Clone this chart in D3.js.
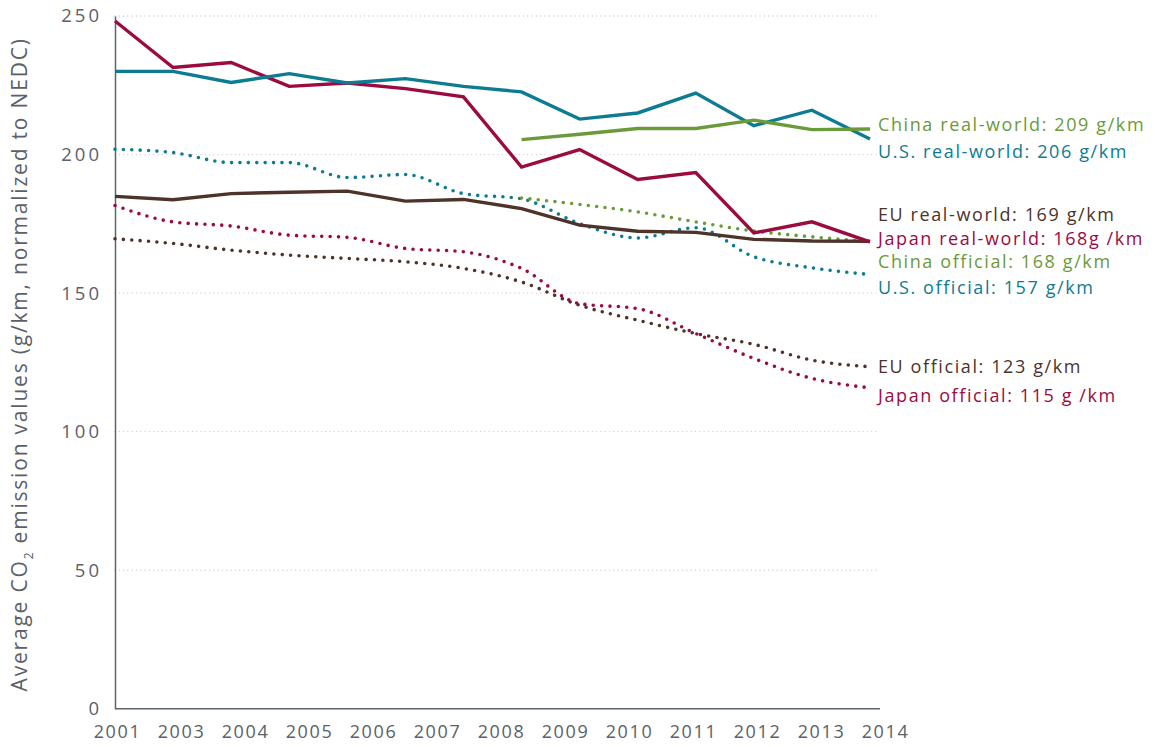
<!DOCTYPE html>
<html lang="en">
<head>
<meta charset="utf-8">
<title>Average CO2 emission values, real-world vs official</title>
<style>
body { margin: 0; background: #fff; }
svg text { font-family: "Open Sans", sans-serif; }
.tick text { fill: #5b6169; font-size: 18px; letter-spacing: 1.6px; }
</style>
<script src="https://cdn.jsdelivr.net/npm/d3@7"></script>
</head>
<body>
<svg id="chart" width="1155" height="747"></svg>
<script>

// years with data (2002 included), and the labels printed under the axis (2002 missing)
var years = d3.range(2001, 2015);
var yearLabels = ["2001", "2003", "2004", "2005", "2006", "2007", "2008", "2009", "2010", "2011", "2012", "2013", "2014"];
var yTicks = [0, 50, 100, 150, 200, 250];

var japanReal = [248.2, 231.4, 233.2, 224.6, 225.8, 223.8, 220.8, 195.5, 201.8, 191.0, 193.5, 171.7, 175.7, 168.5];
var usReal    = [230.0, 230.0, 226.0, 229.2, 225.8, 227.4, 224.6, 222.6, 212.8, 215.0, 222.2, 210.4, 216.0, 205.6];
var chinaReal = [null, null, null, null, null, null, null, 205.4, 207.3, 209.4, 209.4, 212.4, 209.0, 209.2];
var euReal    = [184.9, 183.7, 185.9, 186.4, 186.8, 183.2, 183.8, 180.5, 174.5, 172.3, 171.9, 169.4, 168.8, 168.7];

var usOff     = [201.9, 200.7, 197.1, 197.1, 191.7, 192.8, 185.9, 184.0, 175.1, 169.9, 173.6, 163.1, 159.1, 156.7];
var chinaOff  = [null, null, null, null, null, null, null, 184.3, 182.0, 179.3, 175.7, 172.4, 170.3, 168.5];
var japanOff  = [181.6, 175.7, 174.2, 170.9, 170.1, 166.1, 164.9, 158.9, 146.2, 144.4, 135.4, 126.4, 119.2, 115.8];
var euOff     = [169.6, 167.9, 165.5, 163.7, 162.5, 161.3, 158.9, 154.0, 145.6, 140.2, 135.4, 131.5, 125.8, 123.4];

var colors = {
  china: "#6b9a3a",
  us: "#0d7c92",
  eu: "#4d3329",
  japan: "#9b0b3f"
};

var series = [
  {key: "euOff", values: euOff, color: colors.eu, dotted: true},
  {key: "japanOff", values: japanOff, color: colors.japan, dotted: true},
  {key: "usOff", values: usOff, color: colors.us, dotted: true},
  {key: "chinaOff", values: chinaOff, color: colors.china, dotted: true},
  {key: "euReal", values: euReal, color: colors.eu, dotted: false},
  {key: "japanReal", values: japanReal, color: colors.japan, dotted: false},
  {key: "usReal", values: usReal, color: colors.us, dotted: false},
  {key: "chinaReal", values: chinaReal, color: colors.china, dotted: false}
];

// end labels; "at" is the value on the y scale where the label sits
var labels = [
  {text: "China real-world: 209 g/km", color: colors.china, at: 210.6},
  {text: "U.S. real-world: 206 g/km", color: colors.us, at: 200.9},
  {text: "EU real-world: 169 g/km", color: colors.eu, at: 178.3},
  {text: "Japan real-world: 168g /km", color: colors.japan, at: 169.6},
  {text: "China official: 168 g/km", color: colors.china, at: 161.2},
  {text: "U.S. official: 157 g/km", color: colors.us, at: 151.8},
  {text: "EU official: 123 g/km", color: colors.eu, at: 123.5},
  {text: "Japan official: 115 g /km", color: colors.japan, at: 112.8}
];

var svg = d3.select("#chart");

var x = d3.scalePoint().domain(years).range([115, 870]);
var xLab = d3.scalePoint().domain(yearLabels).range([117, 885]);
var y = d3.scaleLinear().domain([0, 250]).range([708.7, 16]);

// gridlines
svg.append("g")
  .selectAll("line")
  .data(yTicks.filter(function(d) { return d > 0; }))
  .enter().append("line")
    .attr("x1", 115)
    .attr("x2", 880)
    .attr("y1", function(d) { return y(d); })
    .attr("y2", function(d) { return y(d); })
    .attr("stroke", "#c8c8c8")
    .attr("stroke-width", 1.3)
    .attr("stroke-linecap", "round")
    .attr("stroke-dasharray", "0 4.3");

// y axis
var yAxis = svg.append("g")
  .attr("transform", "translate(115,0)")
  .call(d3.axisLeft(y).tickValues(yTicks).tickSize(0).tickPadding(13));
yAxis.select(".domain").attr("stroke", "#5b636b").attr("stroke-width", 1.5);
yAxis.selectAll(".tick text").style("font-size", "18.5px").style("letter-spacing", "3px");

// x axis
var xAxis = svg.append("g")
  .attr("transform", "translate(0,708.7)")
  .call(d3.axisBottom(xLab).tickSize(0).tickPadding(17));
xAxis.select(".domain").remove();
svg.append("line")
  .attr("x1", 115).attr("x2", 880)
  .attr("y1", y(0)).attr("y2", y(0))
  .attr("stroke", "#5b636b")
  .attr("stroke-width", 1.5);

// y title
var title = svg.append("text")
  .attr("transform", "translate(27," + ((y(0) + y(250)) / 2 + 2) + ") rotate(-90)")
  .attr("text-anchor", "middle")
  .attr("fill", "#5b6169")
  .style("font-size", "21px")
  .style("letter-spacing", "1.8px");
title.append("tspan").text("Average CO");
title.append("tspan").text("2").attr("dy", 6).style("font-size", "12px");
title.append("tspan").text(" emission values (g/km, normalized to NEDC)").attr("dy", -6);

// lines
var solid = d3.line()
  .defined(function(d) { return d != null; })
  .x(function(d, i) { return x(years[i]); })
  .y(function(d) { return y(d); });

var smooth = d3.line()
  .defined(function(d) { return d != null; })
  .x(function(d, i) { return x(years[i]); })
  .y(function(d) { return y(d); })
  .curve(d3.curveMonotoneX);

svg.append("g")
  .selectAll("path")
  .data(series)
  .enter().append("path")
    .attr("fill", "none")
    .attr("stroke", function(d) { return d.color; })
    .attr("stroke-width", function(d) { return d.dotted ? 3.6 : 3.4; })
    .attr("stroke-linecap", function(d) { return d.dotted ? "round" : "butt"; })
    .attr("stroke-linejoin", "miter")
    .attr("stroke-dasharray", function(d) { return d.dotted ? "0 8.4" : null; })
    .attr("d", function(d) { return d.dotted ? smooth(d.values) : solid(d.values); });

// end labels
svg.append("g")
  .selectAll("text")
  .data(labels)
  .enter().append("text")
    .attr("x", 878)
    .attr("y", function(d) { return y(d.at); })
    .attr("dy", "0.35em")
    .attr("fill", function(d) { return d.color; })
    .style("font-size", "18px")
    .style("letter-spacing", "1.6px")
    .text(function(d) { return d.text; });

</script>
</body>
</html>
